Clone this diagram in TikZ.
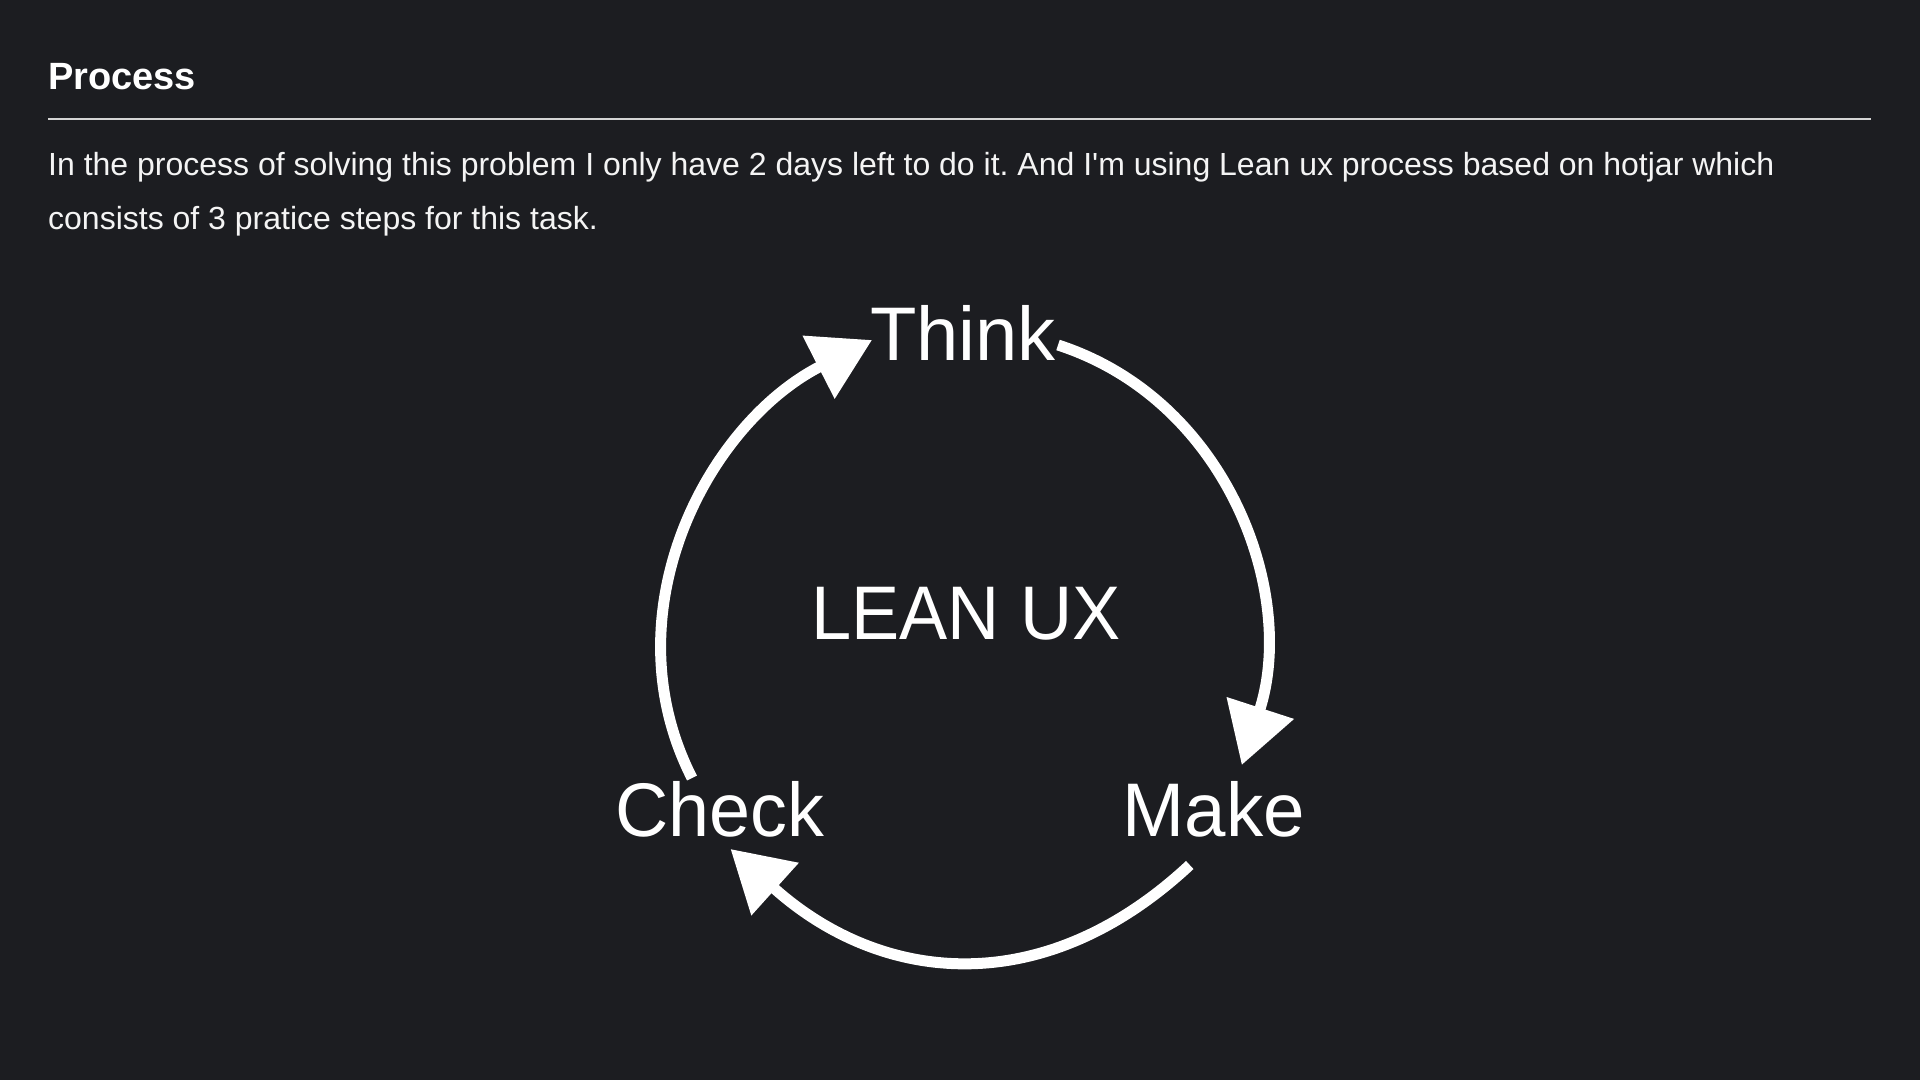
\documentclass[tikz,border=0pt]{standalone}
\usepackage{fontspec}
\setmainfont{Liberation Sans}
\usetikzlibrary{arrows.meta}
\definecolor{bgdark}{HTML}{1C1D21}
\definecolor{rulegray}{HTML}{D4D4D4}
\definecolor{textwhite}{HTML}{F4F4F4}
\frenchspacing

\begin{document}
\begin{tikzpicture}[x=1pt,y=1pt]
	\fill[bgdark] (0,0) rectangle (1920,-1080);
	\useasboundingbox (0,0) rectangle (1920,-1080);
	% header and text
	\node[anchor=base west, inner sep=0, text=white, font=\fontsize{38}{46}\selectfont\bfseries] (title) at (48,-89.5) {Process};
	\coordinate (ruleL) at (48,-119);
	\coordinate (ruleR) at (1871,-119);
	\draw[rulegray, line width=2pt] (ruleL) -- (ruleR);
	\begin{scope}[every node/.style={anchor=base west, inner sep=0, text=textwhite, font=\fontsize{32}{40}\selectfont}]
		\node (line1) at (48,-175.7) {In the process of solving this problem I only have 2 days left to do it. And I\textquotesingle m using Lean ux process based on hotjar which};
		\node (line2) at (48,-229)   {consists of 3 pratice steps for this task.};
	\end{scope}
	% cycle
	\begin{scope}[every node/.style={anchor=base, inner sep=0, text=white, font=\fontsize{76}{90}\selectfont}]
		\node (think) at (963,-360)      {Think};
		\node (lean)  at (966,-639)      {\scalebox{0.95}[1]{LEAN UX}};
		\node (check) at (719.5,-836)    {\scalebox{0.97}[1]{Check}};
		\node (make)  at (1213.75,-836)  {\scalebox{0.98}[1]{Make}};
	\end{scope}
	\begin{scope}[>={Triangle[length=60pt,width=68pt]},
	              every edge/.style={draw=white, line width=11pt, ->}]
		\path ([xshift=-27.5pt,yshift=58pt]check.base) edge[out=117, in=207, looseness=1] ([xshift=-91pt,yshift=20pt]think.base);
		\path ([xshift=95pt,yshift=15pt]think.base) edge[out=-18, in=72, looseness=1] ([xshift=28pt,yshift=71pt]make.base);
		\path ([xshift=-24pt,yshift=-29pt]make.base) edge[out=223, in=318, looseness=1.12] ([xshift=11pt,yshift=-13pt]check.base);
	\end{scope}
\end{tikzpicture}
\end{document}
